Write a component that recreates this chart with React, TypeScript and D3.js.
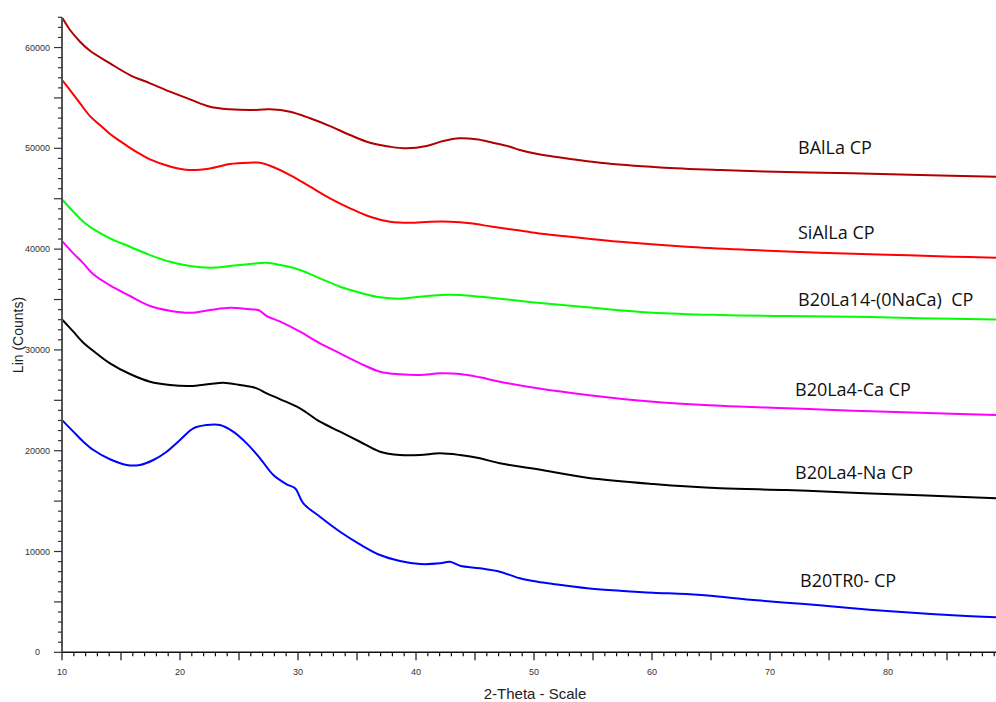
import React from "react";
import * as d3 from "d3";

// ---- data (2-Theta, counts) ----
const bAlLa: [number, number][] = [
  [10.05, 62900], [10.68, 61740], [11.53, 60580], [12.37, 59680], [14.07, 58430], [15.76, 57270],
  [17.46, 56450], [19.15, 55620], [20.85, 54860], [22.54, 54130], [24.24, 53870], [25.93, 53800],
  [27.63, 53870], [29.32, 53630], [31.02, 52980], [32.71, 52210], [34.41, 51320], [36.1, 50560],
  [37.8, 50160], [39.2, 50000], [40.9, 50230], [42.3, 50720], [43.7, 50990], [45.1, 50890],
  [46.5, 50560], [47.97, 50160], [48.8, 49830], [50.3, 49430], [51.36, 49240], [55.6, 48570],
  [60.7, 48110], [65.8, 47850], [71.4, 47650], [77.0, 47520], [82.7, 47350], [89.15, 47180],
];

const siAlLa: [number, number][] = [
  [10.05, 56710], [10.68, 55780], [11.53, 54460], [12.37, 53200], [13.22, 52310], [14.07, 51420],
  [14.92, 50720], [15.76, 50050], [16.6, 49450], [17.46, 48900], [19.15, 48200], [20.85, 47850],
  [22.54, 48010], [24.24, 48440], [25.93, 48570], [26.78, 48570], [27.63, 48270], [29.32, 47350],
  [31.02, 46190], [32.71, 45040], [34.41, 44050], [36.1, 43210], [37.8, 42720], [39.5, 42620],
  [41.2, 42720], [42.9, 42720], [44.6, 42560], [46.5, 42220], [48.5, 41890], [50.3, 41570],
  [53.05, 41230], [57.3, 40730], [62.9, 40240], [68.6, 39910], [74.2, 39640], [79.9, 39450],
  [85.5, 39250], [89.15, 39150],
];

const b20La14: [number, number][] = [
  [10.05, 44870], [10.96, 43710], [11.81, 42720], [12.66, 41980], [14.07, 41070], [15.76, 40240],
  [17.46, 39410], [19.15, 38750], [20.85, 38320], [22.54, 38160], [24.24, 38320], [25.93, 38520],
  [27.35, 38650], [28.5, 38420], [30.17, 37930], [31.86, 37100], [33.56, 36270], [35.25, 35680],
  [36.95, 35220], [38.64, 35080], [40.34, 35280], [42.03, 35450], [43.73, 35450], [45.42, 35280],
  [47.1, 35080], [50.3, 34680], [54.5, 34230], [60.1, 33690], [65.8, 33460], [71.4, 33360],
  [77.0, 33300], [82.7, 33130], [89.15, 33030],
];

const b20La4Ca: [number, number][] = [
  [10.05, 40740], [10.96, 39580], [11.81, 38590], [12.66, 37500], [14.07, 36400], [15.76, 35350],
  [17.46, 34360], [19.15, 33890], [20.85, 33690], [22.54, 33960], [24.24, 34190], [25.93, 34030],
  [26.64, 33960], [27.35, 33360], [28.5, 32800], [30.17, 31810], [31.86, 30650], [33.56, 29660],
  [35.25, 28670], [36.95, 27840], [38.64, 27580], [40.34, 27510], [42.03, 27680], [43.73, 27610],
  [45.42, 27280], [47.1, 26850], [50.3, 26190], [54.5, 25530], [60.1, 24860], [65.8, 24460],
  [71.4, 24210], [77.0, 23970], [82.7, 23770], [89.15, 23540],
];

const b20La4Na: [number, number][] = [
  [10.05, 32970], [10.96, 31810], [11.81, 30720], [12.66, 29900], [14.07, 28670], [15.76, 27610],
  [17.46, 26850], [19.15, 26520], [20.85, 26420], [22.54, 26620], [23.67, 26750], [25.08, 26520],
  [26.5, 26190], [27.35, 25690], [28.5, 25100], [30.17, 24210], [31.86, 22880], [33.56, 21890],
  [35.25, 20890], [36.95, 19900], [38.64, 19570], [40.34, 19570], [42.03, 19740], [43.73, 19570],
  [45.42, 19250], [47.1, 18750], [50.3, 18150], [54.5, 17320], [60.1, 16700], [65.8, 16270],
  [71.4, 16100], [77.0, 15830], [82.7, 15580], [89.15, 15280],
];

const b20TR0: [number, number][] = [
  [10.05, 22980], [10.96, 21890], [11.81, 20890], [12.66, 20070], [14.07, 19150], [15.48, 18580],
  [16.6, 18580], [17.74, 19080], [18.87, 19900], [20.0, 21060], [21.13, 22220], [22.26, 22550],
  [23.39, 22550], [24.5, 21890], [25.65, 20730], [26.78, 19250], [27.91, 17590], [29.04, 16670],
  [29.75, 16270], [30.45, 14780], [31.86, 13450], [33.56, 11960], [35.25, 10710], [36.95, 9650],
  [38.64, 9060], [40.34, 8760], [42.03, 8830], [42.88, 8990], [43.73, 8590], [45.42, 8330],
  [47.1, 8000], [48.8, 7340], [50.3, 7000], [51.6, 6780], [54.5, 6350], [57.3, 6110], [60.1, 5910],
  [62.9, 5780], [65.8, 5520], [68.6, 5190], [71.4, 4920], [74.2, 4660], [77.0, 4370], [79.9, 4100],
  [82.7, 3870], [85.5, 3670], [89.15, 3470],
];

const seriesNames = ["BAlLa CP", "SiAlLa CP", "B20La14-(0NaCa)  CP", "B20La4-Ca CP", "B20La4-Na CP", "B20TR0- CP"];
const seriesData = [bAlLa, siAlLa, b20La14, b20La4Ca, b20La4Na, b20TR0];
const xTickLabels = [10, 20, 30, 40, 50, 60, 70, 80];
const yTickLabels = [0, 10000, 20000, 30000, 40000, 50000, 60000];

// ---- layout / style ----
const W = 996;
const H = 702;
const colors = ["#b00000", "#ff0000", "#00ff00", "#ff00ff", "#000000", "#0000ff"];
const labelPos: [number, number][] = [
  [798, 154], [798, 239.3], [798, 305.5], [795, 396], [795, 479.3], [800, 587.3],
];

export default function App() {
  const x = d3.scaleLinear().domain([10, 89.15]).range([62, 996]);
  const y = d3.scaleLinear().domain([0, 63000]).range([652.3, 17.3]);
  const line = d3
    .line<[number, number]>()
    .x((d) => x(d[0]))
    .y((d) => y(d[1]))
    .curve(d3.curveCatmullRom.alpha(0.5));

  const xMinor = d3.range(10, 90, 1);
  const yMinor = d3.range(0, 63001, 1000);
  const axisFont = "'Liberation Sans', Arial, sans-serif";

  return (
    <svg
      width={W}
      height={H}
      style={{ position: "absolute", left: 0, top: 0, background: "#fff" }}
    >
      <rect x={0} y={0} width={W} height={H} fill="#fff" />
      {/* series */}
      {seriesData.map((d, i) => (
        <path key={i} d={line(d) || ""} fill="none" stroke={colors[i]} strokeWidth={2} strokeLinejoin="round" />
      ))}

      {/* x axis */}
      <line x1={x(10)} x2={W} y1={y(0)} y2={y(0)} stroke="#111" strokeWidth={1.4} />
      {xMinor.map((t) => (
        <line
          key={"xt" + t}
          x1={x(t)}
          x2={x(t)}
          y1={y(0)}
          y2={y(0) + (t % 5 === 0 ? 8 : 4)}
          stroke="#111"
          strokeWidth={1.2}
        />
      ))}
      {xTickLabels.map((t) => (
        <text key={"xl" + t} x={x(t)} y={675} fontSize={9} fontFamily={axisFont} textAnchor="middle" fill="#333">
          {t}
        </text>
      ))}

      {/* y axis */}
      <line x1={x(10)} x2={x(10)} y1={y(63000)} y2={y(0)} stroke="#555" strokeWidth={2} />
      {yMinor.map((v) => (
        <line
          key={"yt" + v}
          x1={x(10)}
          x2={x(10) - (v % 5000 === 0 ? 8 : 4)}
          y1={y(v)}
          y2={y(v)}
          stroke="#333"
          strokeWidth={1.2}
        />
      ))}
      {yTickLabels.map((v) => (
        <text
          key={"yl" + v}
          x={v === 0 ? 40 : 50}
          y={y(v) + 3}
          fontSize={9}
          fontFamily={axisFont}
          textAnchor="end"
          fill="#333"
        >
          {v}
        </text>
      ))}

      {/* axis titles */}
      <text x={535} y={699} fontSize={15} fontFamily={axisFont} textAnchor="middle" fill="#222">
        2-Theta - Scale
      </text>
      <text
        transform={`translate(23,335) rotate(-90)`}
        fontSize={14}
        fontFamily={axisFont}
        textAnchor="middle"
        fill="#222"
      >
        Lin (Counts)
      </text>

      {/* series labels */}
      {seriesNames.map((n, i) => (
        <text
          key={"sl" + i}
          x={labelPos[i][0]}
          y={labelPos[i][1]}
          fontSize={18}
          fontFamily="'Open Sans', sans-serif"
          fill="#111"
          style={{ whiteSpace: "pre" }}
        >
          {n}
        </text>
      ))}
    </svg>
  );
}
